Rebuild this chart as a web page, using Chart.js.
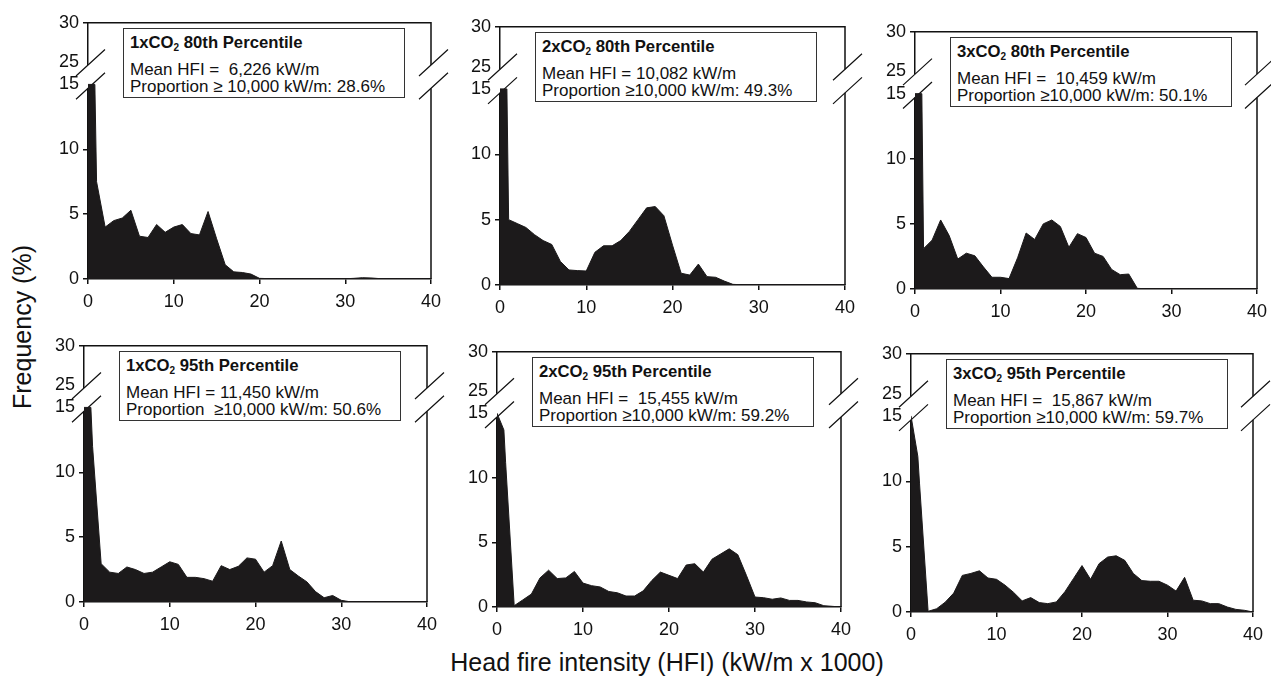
<!DOCTYPE html>
<html>
<head>
<meta charset="utf-8">
<script src="https://cdn.jsdelivr.net/npm/chart.js@4.4.1/dist/chart.umd.min.js"></script>
<style>
    html, body { margin: 0; padding: 0; background: #fff; overflow: hidden; }
    #page { position: relative; width: 1271px; height: 679px; font-family: 'Liberation Sans', Arial, sans-serif; color: #111; }
    canvas { position: absolute; }
    .note { position: absolute; box-sizing: border-box; width: 282px; height: 70px; border: 1px solid #333; background: #fff; white-space: pre; }
    .note div { position: absolute; left: 6px; line-height: 1; }
    .note .head { top: 6px; font-weight: bold; font-size: 16.7px; }
    .note .head span { font-size: 10px; position: relative; top: 3px; }
    .note .l2 { top: 32px; font-size: 17px; }
    .note .l3 { top: 49px; font-size: 17px; }
    .ytitle { position: absolute; left: 22px; top: 327px; font-size: 25px; transform: translate(-50%, -50%) rotate(-90deg); white-space: nowrap; }
    .xtitle { position: absolute; left: 667px; top: 662px; font-size: 25px; transform: translate(-50%, -50%); white-space: nowrap; }
</style>
</head>
<body>
<div id="page">
    <div class="ytitle">Frequency (%)</div>
    <div class="xtitle">Head fire intensity (HFI) (kW/m x 1000)</div>
</div>
<script>
// HFI bins (kW/m x 1000); 0.8 marks where the clipped first peak ends
const hfiBins = [0, 0.8, 1, 2, 3, 4, 5, 6, 7, 8, 9, 10, 11, 12, 13, 14, 15, 16, 17, 18, 19, 20,
    21, 22, 23, 24, 25, 26, 27, 28, 29, 30, 31, 32, 33, 34, 35, 36, 37, 38, 39, 40];

// frequency (%) per bin, first peak is off scale (cut at the break)
const freq1x80 = [15, 15, 7.5, 4.0, 4.5, 4.7, 5.3, 3.3, 3.2, 4.2, 3.6, 4.0, 4.2, 3.5, 3.4, 5.2, 3.1, 1.1, 0.55, 0.5, 0.38, 0.05,
    0.03, 0.02, 0.02, 0.02, 0.02, 0.02, 0.02, 0.02, 0.02, 0.02, 0.05, 0.1, 0.08, 0.03, 0.02, 0.02, 0.02, 0.02, 0.02, 0];
const freq2x80 = [15, 15, 5.0, 4.7, 4.4, 3.85, 3.4, 3.1, 1.8, 1.15, 1.1, 1.07, 2.5, 3.0, 3.0, 3.4, 4.1, 5.0, 5.9, 6.0, 5.3, 3.05,
    0.9, 0.76, 1.6, 0.64, 0.59, 0.3, 0.05, 0.02, 0.02, 0.02, 0.02, 0.02, 0.02, 0.02, 0.02, 0.02, 0.02, 0.02, 0.02, 0.02];
const freq3x80 = [15, 15, 3.1, 3.75, 5.3, 4.1, 2.3, 2.75, 2.55, 1.7, 0.9, 0.9, 0.8, 2.4, 4.3, 3.8, 5.0, 5.3, 4.8, 3.2, 4.25, 3.95,
    2.75, 2.5, 1.5, 1.1, 1.15, 0.05, 0.02, 0.02, 0.02, 0.02, 0.02, 0.02, 0.02, 0.02, 0.02, 0.02, 0.02, 0.02, 0.02, 0.02];
const freq1x95 = [15, 15, 12, 2.95, 2.3, 2.2, 2.7, 2.5, 2.2, 2.3, 2.7, 3.1, 2.9, 1.9, 1.9, 1.8, 1.6, 2.8, 2.5, 2.75, 3.4, 3.3,
    2.3, 2.8, 4.7, 2.5, 2.0, 1.55, 0.8, 0.33, 0.5, 0.13, 0.02, 0.02, 0.02, 0.02, 0.02, 0.02, 0.02, 0.02, 0.02, 0.02];
const freq2x95 = [15, 13.7, 11.2, 0.1, 0.55, 1.0, 2.25, 2.85, 2.2, 2.25, 2.75, 1.85, 1.65, 1.55, 1.2, 1.1, 0.85, 0.85, 1.25, 2.05, 2.7, 2.45,
    2.2, 3.25, 3.35, 2.7, 3.7, 4.1, 4.5, 4.05, 2.45, 0.77, 0.72, 0.6, 0.7, 0.51, 0.51, 0.39, 0.33, 0.1, 0.05, 0];
const freq3x95 = [15, 11.9, 9.8, 0.05, 0.25, 0.75, 1.45, 2.8, 2.95, 3.15, 2.6, 2.5, 2.05, 1.5, 0.85, 1.1, 0.72, 0.64, 0.77, 1.55, 2.55, 3.55,
    2.5, 3.7, 4.2, 4.3, 3.95, 2.95, 2.4, 2.35, 2.35, 2.05, 1.6, 2.65, 0.9, 0.85, 0.64, 0.64, 0.38, 0.2, 0.13, 0];

const scenarios = ['1x', '2x', '3x', '1x', '2x', '3x'];
const percentiles = ['80th', '80th', '80th', '95th', '95th', '95th'];
const meanLines = ['Mean HFI =  6,226 kW/m', 'Mean HFI = 10,082 kW/m', 'Mean HFI =  10,459 kW/m',
    'Mean HFI = 11,450 kW/m', 'Mean HFI =  15,455 kW/m', 'Mean HFI =  15,867 kW/m'];
const proportionLines = ['Proportion \u2265 10,000 kW/m: 28.6%', 'Proportion \u226510,000 kW/m: 49.3%',
    'Proportion \u226510,000 kW/m: 50.1%', 'Proportion  \u226510,000 kW/m: 50.6%',
    'Proportion \u226510,000 kW/m: 59.2%', 'Proportion \u226510,000 kW/m: 59.7%'];
const series = [freq1x80, freq2x80, freq3x80, freq1x95, freq2x95, freq3x95];

const xTickValues = [0, 10, 20, 30, 40];
const yTickLabels = [0, 5, 10, 15, 25, 30];

// plot areas in the page (left, top, right, bottom)
const panelAreas = [
    [88, 22, 431, 279], [500, 26, 845, 285], [915, 31, 1257, 289],
    [84, 345, 427, 602], [497, 351, 841, 607], [911, 353, 1253, 612]
];

const FONT = "'Liberation Sans', Arial, sans-serif";
const INK = '#111';

// the axis jumps from 15 to 25
function brokenAxis(v) {
    return v <= 15 ? v : 16.7 + (v - 25) * 0.61;
}

// frame on top/right and the // break marks
const axisBreakPlugin = {
    id: 'axisBreak',
    beforeDatasetsDraw(chart) {
        const { ctx, chartArea: a, scales } = chart;
        const yLow = scales.y.getPixelForValue(14.7);
        const yHigh = scales.y.getPixelForValue(16.5);
        ctx.save();
        ctx.strokeStyle = INK;
        ctx.lineWidth = 1.5;
        ctx.beginPath();
        ctx.moveTo(a.left, a.top);
        ctx.lineTo(a.right, a.top);
        ctx.lineTo(a.right, a.bottom);
        ctx.stroke();
        [a.left, a.right].forEach(x => {
            ctx.fillStyle = '#fff';
            ctx.fillRect(x - 3, yHigh, 6, yLow - yHigh);
            ctx.lineWidth = 1.2;
            ctx.beginPath();
            ctx.moveTo(x - 12, yLow + 11);
            ctx.lineTo(x + 17, yLow - 15.5);
            ctx.moveTo(x - 12, yHigh + 11);
            ctx.lineTo(x + 17, yHigh - 15.5);
            ctx.stroke();
        });
        ctx.restore();
    }
};

function createPanel(i) {
    const page = document.getElementById('page');
    const [left, top, right, bottom] = panelAreas[i];
    const canvas = document.createElement('canvas');
    const w = right - left + 50 + 22;
    const h = bottom - top + 14 + 38;
    canvas.width = w;
    canvas.height = h;
    canvas.style.left = (left - 50) + 'px';
    canvas.style.top = (top - 14) + 'px';
    canvas.style.width = w + 'px';
    canvas.style.height = h + 'px';
    page.appendChild(canvas);

    const note = document.createElement('div');
    note.className = 'note';
    note.style.left = (left + 35) + 'px';
    note.style.top = (top + 6) + 'px';
    note.innerHTML =
        '<div class="head">' + scenarios[i] + 'CO<span>2</span> ' + percentiles[i] + ' Percentile</div>' +
        '<div class="l2">' + meanLines[i] + '</div>' +
        '<div class="l3">' + proportionLines[i] + '</div>';
    page.appendChild(note);

    const values = series[i];
    new Chart(canvas, {
        type: 'line',
        data: {
            datasets: [{
                data: hfiBins.map((x, k) => ({ x: x, y: values[k] })),
                borderColor: '#1c1a1b',
                backgroundColor: '#1c1a1b',
                borderWidth: 1,
                fill: 'origin',
                pointRadius: 0,
                tension: 0
            }]
        },
        options: {
            responsive: false,
            devicePixelRatio: 1,
            animation: false,
            layout: { padding: { left: 0, top: 14, right: 22, bottom: 2 } },
            plugins: {
                legend: { display: false },
                tooltip: { enabled: false }
            },
            scales: {
                x: {
                    type: 'linear',
                    min: 0,
                    max: 40,
                    afterBuildTicks: axis => { axis.ticks = xTickValues.map(v => ({ value: v })); },
                    afterFit: axis => { axis.height = 36; },
                    ticks: {
                        autoSkip: false,
                        maxRotation: 0,
                        padding: 7,
                        color: INK,
                        font: { family: FONT, size: 18 }
                    },
                    grid: { drawOnChartArea: false, tickLength: 5, color: INK, lineWidth: 1.5 },
                    border: { display: true, color: INK, width: 1.5 }
                },
                y: {
                    type: 'linear',
                    min: 0,
                    max: brokenAxis(30),
                    afterBuildTicks: axis => { axis.ticks = yTickLabels.map(v => ({ value: brokenAxis(v) })); },
                    afterFit: axis => { axis.width = 50; },
                    ticks: {
                        autoSkip: false,
                        padding: 4,
                        color: INK,
                        font: { family: FONT, size: 18 },
                        callback: (value, index) => String(yTickLabels[index])
                    },
                    grid: {
                        drawOnChartArea: false,
                        tickLength: 5,
                        lineWidth: 1.5,
                        color: ctx => (yTickLabels[ctx.index] === 15 || yTickLabels[ctx.index] === 25) ? 'rgba(0,0,0,0)' : INK
                    },
                    border: { display: true, color: INK, width: 1.5 }
                }
            }
        },
        plugins: [axisBreakPlugin]
    });
}

document.addEventListener('DOMContentLoaded', function() {
    for (let i = 0; i < series.length; i++) {
        createPanel(i);
    }
});
</script>
</body>
</html>
